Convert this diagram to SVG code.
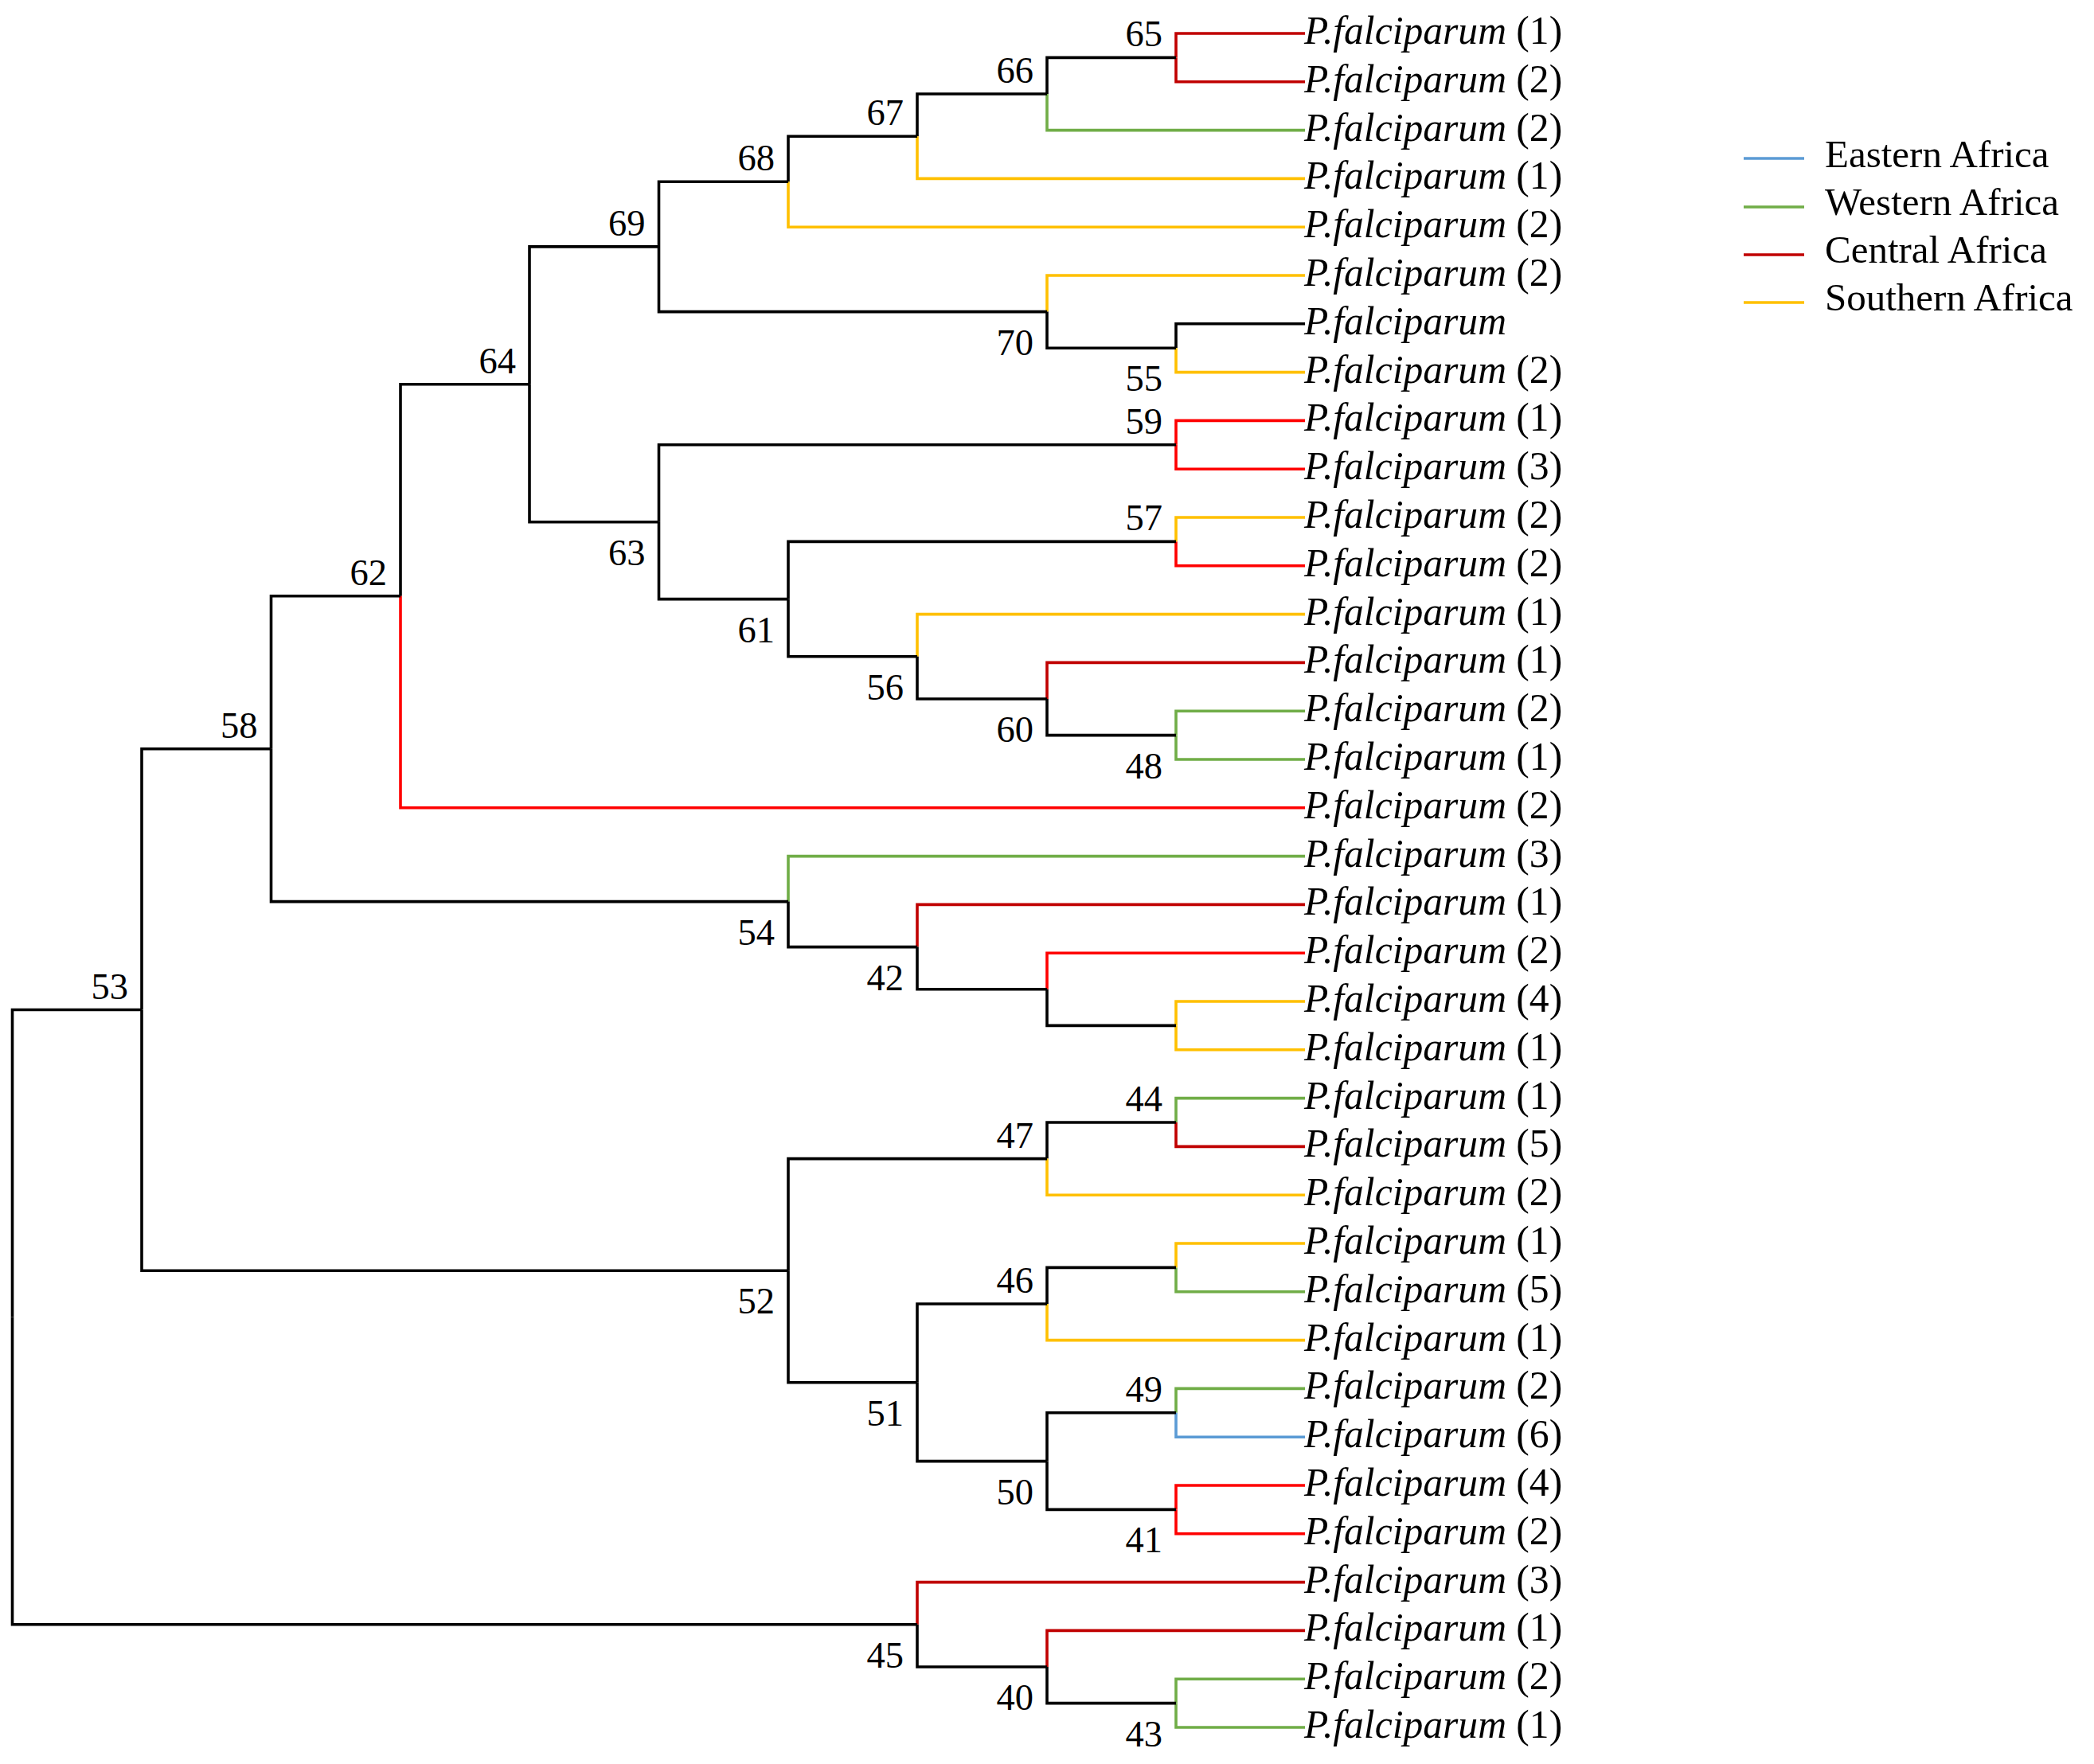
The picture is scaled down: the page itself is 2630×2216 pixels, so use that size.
<svg xmlns="http://www.w3.org/2000/svg" width="2630" height="2216" viewBox="0 0 2630 2216">
<style>
.e{fill:none;stroke-width:3.6;stroke-linejoin:miter}
.k{stroke:#000}
.r{stroke:#c00000}
.rb{stroke:#ff0000}
.g{stroke:#70ad47}
.y{stroke:#ffc000}
.b{stroke:#5b9bd5}
text{font-family:"Liberation Serif","Times New Roman",serif;fill:#000}
.lf{font-size:49.6px}
.lf tspan{font-style:italic}
.nl{font-size:46.5px;text-anchor:end}
.lg{font-size:49px}
</style>
<rect width="2630" height="2216" fill="#fff"/>
<g id="connectors">
<path class="e r" d="M1477 72.4V42H1639"/><path class="e r" d="M1477 72.4V102.8H1639"/>
<path class="e k" d="M1315 118V72.4H1477"/><path class="e g" d="M1315 118V163.6H1639"/>
<path class="e k" d="M1152 171.2V118H1315"/><path class="e y" d="M1152 171.2V224.4H1639"/>
<path class="e k" d="M990 228.2V171.2H1152"/><path class="e y" d="M990 228.2V285.2H1639"/>
<path class="e k" d="M1477 437.2V406.8H1639"/><path class="e y" d="M1477 437.2V467.6H1639"/>
<path class="e y" d="M1315 391.6V346H1639"/><path class="e k" d="M1315 391.6V437.2H1477"/>
<path class="e k" d="M827.5 309.9V228.2H990"/><path class="e k" d="M827.5 309.9V391.6H1315"/>
<path class="e rb" d="M1477 558.8V528.4H1639"/><path class="e rb" d="M1477 558.8V589.2H1639"/>
<path class="e y" d="M1477 680.4V650H1639"/><path class="e rb" d="M1477 680.4V710.8H1639"/>
<path class="e g" d="M1477 923.6V893.2H1639"/><path class="e g" d="M1477 923.6V954H1639"/>
<path class="e r" d="M1315 878V832.4H1639"/><path class="e k" d="M1315 878V923.6H1477"/>
<path class="e y" d="M1152 824.8V771.6H1639"/><path class="e k" d="M1152 824.8V878H1315"/>
<path class="e k" d="M990 752.6V680.4H1477"/><path class="e k" d="M990 752.6V824.8H1152"/>
<path class="e k" d="M827.5 655.7V558.8H1477"/><path class="e k" d="M827.5 655.7V752.6H990"/>
<path class="e k" d="M665 482.8V309.9H827.5"/><path class="e k" d="M665 482.8V655.7H827.5"/>
<path class="e k" d="M503 748.8V482.8H665"/><path class="e rb" d="M503 748.8V1014.8H1639"/>
<path class="e y" d="M1477 1288.4V1258H1639"/><path class="e y" d="M1477 1288.4V1318.8H1639"/>
<path class="e rb" d="M1315 1242.8V1197.2H1639"/><path class="e k" d="M1315 1242.8V1288.4H1477"/>
<path class="e r" d="M1152 1189.6V1136.4H1639"/><path class="e k" d="M1152 1189.6V1242.8H1315"/>
<path class="e g" d="M990 1132.6V1075.6H1639"/><path class="e k" d="M990 1132.6V1189.6H1152"/>
<path class="e k" d="M340.5 940.7V748.8H503"/><path class="e k" d="M340.5 940.7V1132.6H990"/>
<path class="e g" d="M1477 1410V1379.6H1639"/><path class="e r" d="M1477 1410V1440.4H1639"/>
<path class="e k" d="M1315 1455.6V1410H1477"/><path class="e y" d="M1315 1455.6V1501.2H1639"/>
<path class="e y" d="M1477 1592.4V1562H1639"/><path class="e g" d="M1477 1592.4V1622.8H1639"/>
<path class="e k" d="M1315 1638V1592.4H1477"/><path class="e y" d="M1315 1638V1683.6H1639"/>
<path class="e g" d="M1477 1774.8V1744.4H1639"/><path class="e b" d="M1477 1774.8V1805.2H1639"/>
<path class="e rb" d="M1477 1896.4V1866H1639"/><path class="e rb" d="M1477 1896.4V1926.8H1639"/>
<path class="e k" d="M1315 1835.6V1774.8H1477"/><path class="e k" d="M1315 1835.6V1896.4H1477"/>
<path class="e k" d="M1152 1736.8V1638H1315"/><path class="e k" d="M1152 1736.8V1835.6H1315"/>
<path class="e k" d="M990 1596.2V1455.6H1315"/><path class="e k" d="M990 1596.2V1736.8H1152"/>
<path class="e k" d="M178 1268.5V940.7H340.5"/><path class="e k" d="M178 1268.5V1596.2H990"/>
<path class="e g" d="M1477 2139.6V2109.2H1639"/><path class="e g" d="M1477 2139.6V2170H1639"/>
<path class="e r" d="M1315 2094V2048.4H1639"/><path class="e k" d="M1315 2094V2139.6H1477"/>
<path class="e r" d="M1152 2040.8V1987.6H1639"/><path class="e k" d="M1152 2040.8V2094H1315"/>
<path class="e k" d="M15.5 1654.6V1268.5H178"/><path class="e k" d="M15.5 1654.6V2040.8H1152"/>
</g>
<g id="node-labels">
<g id="n65"><text class="nl" x="1460" y="58.4">65</text></g>
<g id="n66"><text class="nl" x="1298" y="104">66</text></g>
<g id="n67"><text class="nl" x="1135" y="157.2">67</text></g>
<g id="n68"><text class="nl" x="973" y="214.2">68</text></g>
<g id="n69"><text class="nl" x="810.5" y="295.9">69</text></g>
<g id="n64"><text class="nl" x="648" y="468.8">64</text></g>
<g id="n62"><text class="nl" x="486" y="734.8">62</text></g>
<g id="n58"><text class="nl" x="323.5" y="926.7">58</text></g>
<g id="n53"><text class="nl" x="161" y="1254.5">53</text></g>
<g id="n59"><text class="nl" x="1460" y="544.8">59</text></g>
<g id="n57"><text class="nl" x="1460" y="666.4">57</text></g>
<g id="n47"><text class="nl" x="1298" y="1441.6">47</text></g>
<g id="n44"><text class="nl" x="1460" y="1396">44</text></g>
<g id="n46"><text class="nl" x="1298" y="1624">46</text></g>
<g id="n49"><text class="nl" x="1460" y="1760.8">49</text></g>
<g id="n70"><text class="nl" x="1298" y="445.6">70</text></g>
<g id="n55"><text class="nl" x="1460" y="491.2">55</text></g>
<g id="n63"><text class="nl" x="810.5" y="709.7">63</text></g>
<g id="n61"><text class="nl" x="973" y="806.6">61</text></g>
<g id="n56"><text class="nl" x="1135" y="878.8">56</text></g>
<g id="n60"><text class="nl" x="1298" y="932">60</text></g>
<g id="n48"><text class="nl" x="1460" y="977.6">48</text></g>
<g id="n54"><text class="nl" x="973" y="1186.6">54</text></g>
<g id="n42"><text class="nl" x="1135" y="1243.6">42</text></g>
<g id="n52"><text class="nl" x="973" y="1650.2">52</text></g>
<g id="n51"><text class="nl" x="1135" y="1790.8">51</text></g>
<g id="n50"><text class="nl" x="1298" y="1889.6">50</text></g>
<g id="n41"><text class="nl" x="1460" y="1950.4">41</text></g>
<g id="n45"><text class="nl" x="1135" y="2094.8">45</text></g>
<g id="n40"><text class="nl" x="1298" y="2148">40</text></g>
<g id="n43"><text class="nl" x="1460" y="2193.6">43</text></g>
</g>
<g id="leaves">
<g id="leaf0"><text class="lf" x="1638" y="55"><tspan>P.falciparum</tspan> (1)</text></g>
<g id="leaf1"><text class="lf" x="1638" y="115.8"><tspan>P.falciparum</tspan> (2)</text></g>
<g id="leaf2"><text class="lf" x="1638" y="176.6"><tspan>P.falciparum</tspan> (2)</text></g>
<g id="leaf3"><text class="lf" x="1638" y="237.4"><tspan>P.falciparum</tspan> (1)</text></g>
<g id="leaf4"><text class="lf" x="1638" y="298.2"><tspan>P.falciparum</tspan> (2)</text></g>
<g id="leaf5"><text class="lf" x="1638" y="359"><tspan>P.falciparum</tspan> (2)</text></g>
<g id="leaf6"><text class="lf" x="1638" y="419.8"><tspan>P.falciparum</tspan></text></g>
<g id="leaf7"><text class="lf" x="1638" y="480.6"><tspan>P.falciparum</tspan> (2)</text></g>
<g id="leaf8"><text class="lf" x="1638" y="541.4"><tspan>P.falciparum</tspan> (1)</text></g>
<g id="leaf9"><text class="lf" x="1638" y="602.2"><tspan>P.falciparum</tspan> (3)</text></g>
<g id="leaf10"><text class="lf" x="1638" y="663"><tspan>P.falciparum</tspan> (2)</text></g>
<g id="leaf11"><text class="lf" x="1638" y="723.8"><tspan>P.falciparum</tspan> (2)</text></g>
<g id="leaf12"><text class="lf" x="1638" y="784.6"><tspan>P.falciparum</tspan> (1)</text></g>
<g id="leaf13"><text class="lf" x="1638" y="845.4"><tspan>P.falciparum</tspan> (1)</text></g>
<g id="leaf14"><text class="lf" x="1638" y="906.2"><tspan>P.falciparum</tspan> (2)</text></g>
<g id="leaf15"><text class="lf" x="1638" y="967"><tspan>P.falciparum</tspan> (1)</text></g>
<g id="leaf16"><text class="lf" x="1638" y="1027.8"><tspan>P.falciparum</tspan> (2)</text></g>
<g id="leaf17"><text class="lf" x="1638" y="1088.6"><tspan>P.falciparum</tspan> (3)</text></g>
<g id="leaf18"><text class="lf" x="1638" y="1149.4"><tspan>P.falciparum</tspan> (1)</text></g>
<g id="leaf19"><text class="lf" x="1638" y="1210.2"><tspan>P.falciparum</tspan> (2)</text></g>
<g id="leaf20"><text class="lf" x="1638" y="1271"><tspan>P.falciparum</tspan> (4)</text></g>
<g id="leaf21"><text class="lf" x="1638" y="1331.8"><tspan>P.falciparum</tspan> (1)</text></g>
<g id="leaf22"><text class="lf" x="1638" y="1392.6"><tspan>P.falciparum</tspan> (1)</text></g>
<g id="leaf23"><text class="lf" x="1638" y="1453.4"><tspan>P.falciparum</tspan> (5)</text></g>
<g id="leaf24"><text class="lf" x="1638" y="1514.2"><tspan>P.falciparum</tspan> (2)</text></g>
<g id="leaf25"><text class="lf" x="1638" y="1575"><tspan>P.falciparum</tspan> (1)</text></g>
<g id="leaf26"><text class="lf" x="1638" y="1635.8"><tspan>P.falciparum</tspan> (5)</text></g>
<g id="leaf27"><text class="lf" x="1638" y="1696.6"><tspan>P.falciparum</tspan> (1)</text></g>
<g id="leaf28"><text class="lf" x="1638" y="1757.4"><tspan>P.falciparum</tspan> (2)</text></g>
<g id="leaf29"><text class="lf" x="1638" y="1818.2"><tspan>P.falciparum</tspan> (6)</text></g>
<g id="leaf30"><text class="lf" x="1638" y="1879"><tspan>P.falciparum</tspan> (4)</text></g>
<g id="leaf31"><text class="lf" x="1638" y="1939.8"><tspan>P.falciparum</tspan> (2)</text></g>
<g id="leaf32"><text class="lf" x="1638" y="2000.6"><tspan>P.falciparum</tspan> (3)</text></g>
<g id="leaf33"><text class="lf" x="1638" y="2061.4"><tspan>P.falciparum</tspan> (1)</text></g>
<g id="leaf34"><text class="lf" x="1638" y="2122.2"><tspan>P.falciparum</tspan> (2)</text></g>
<g id="leaf35"><text class="lf" x="1638" y="2183"><tspan>P.falciparum</tspan> (1)</text></g>
</g>
<g id="legend">
<g id="legend-eastern"><path class="e b" d="M2190 199H2266"/><text class="lg" x="2292" y="210">Eastern Africa</text></g>
<g id="legend-western"><path class="e g" d="M2190 260H2266"/><text class="lg" x="2292" y="270">Western Africa</text></g>
<g id="legend-central"><path class="e r" d="M2190 320H2266"/><text class="lg" x="2292" y="330">Central Africa</text></g>
<g id="legend-southern"><path class="e y" d="M2190 380H2266"/><text class="lg" x="2292" y="390">Southern Africa</text></g>
</g>
</svg>
